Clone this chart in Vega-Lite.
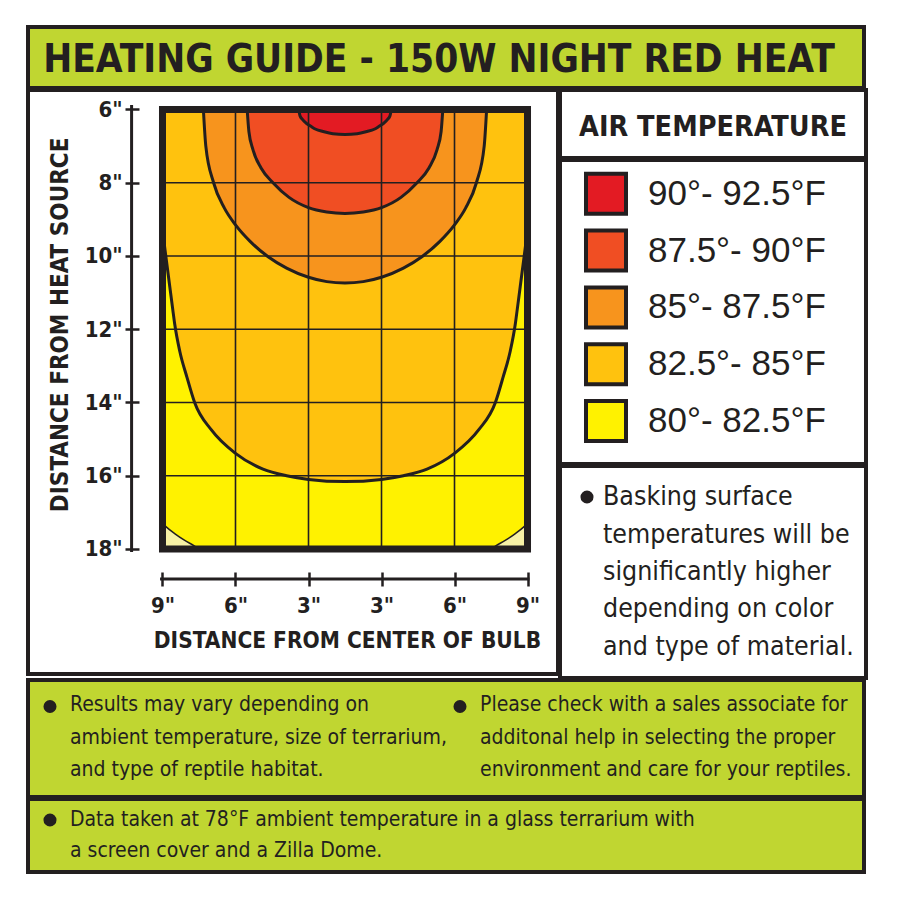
{
  "$schema": "https://vega.github.io/schema/vega-lite/v6.json",
  "background": "white",
  "padding": {"left": 26, "top": 25, "right": 4, "bottom": 4},
  "spacing": -8,
  "config": {
    "font": "DejaVu Sans Condensed, DejaVu Sans, sans-serif",
    "view": {"stroke": "#231f20", "strokeWidth": 4},
    "concat": {"spacing": -8}
  },
  "datasets": {
    "bands": [
      {"band": "82.5°- 85°F", "x": -7.5, "y": 9.3},
      {"band": "82.5°- 85°F", "x": -7.36, "y": 10.02},
      {"band": "82.5°- 85°F", "x": -7.2, "y": 10.84},
      {"band": "82.5°- 85°F", "x": -7.08, "y": 11.45},
      {"band": "82.5°- 85°F", "x": -7.0, "y": 11.85},
      {"band": "82.5°- 85°F", "x": -6.79, "y": 12.6},
      {"band": "82.5°- 85°F", "x": -6.5, "y": 13.3},
      {"band": "82.5°- 85°F", "x": -6.18, "y": 14.0},
      {"band": "82.5°- 85°F", "x": -5.49, "y": 14.75},
      {"band": "82.5°- 85°F", "x": -4.5, "y": 15.39},
      {"band": "82.5°- 85°F", "x": -3.37, "y": 15.82},
      {"band": "82.5°- 85°F", "x": -2.4, "y": 16.0},
      {"band": "82.5°- 85°F", "x": -1.5, "y": 16.1},
      {"band": "82.5°- 85°F", "x": 0, "y": 16.16},
      {"band": "82.5°- 85°F", "x": 1.5, "y": 16.1},
      {"band": "82.5°- 85°F", "x": 2.4, "y": 16.0},
      {"band": "82.5°- 85°F", "x": 3.37, "y": 15.82},
      {"band": "82.5°- 85°F", "x": 4.5, "y": 15.39},
      {"band": "82.5°- 85°F", "x": 5.49, "y": 14.75},
      {"band": "82.5°- 85°F", "x": 6.18, "y": 14.0},
      {"band": "82.5°- 85°F", "x": 6.5, "y": 13.3},
      {"band": "82.5°- 85°F", "x": 6.79, "y": 12.6},
      {"band": "82.5°- 85°F", "x": 7.0, "y": 11.85},
      {"band": "82.5°- 85°F", "x": 7.08, "y": 11.45},
      {"band": "82.5°- 85°F", "x": 7.2, "y": 10.84},
      {"band": "82.5°- 85°F", "x": 7.36, "y": 10.02},
      {"band": "82.5°- 85°F", "x": 7.5, "y": 9.3},
      {"band": "85°- 87.5°F", "x": -5.82, "y": 6.0},
      {"band": "85°- 87.5°F", "x": -5.72, "y": 7.0},
      {"band": "85°- 87.5°F", "x": -5.4, "y": 8.0},
      {"band": "85°- 87.5°F", "x": -4.95, "y": 8.7},
      {"band": "85°- 87.5°F", "x": -4.5, "y": 9.15},
      {"band": "85°- 87.5°F", "x": -3.9, "y": 9.6},
      {"band": "85°- 87.5°F", "x": -3.16, "y": 10.02},
      {"band": "85°- 87.5°F", "x": -2.4, "y": 10.33},
      {"band": "85°- 87.5°F", "x": -1.5, "y": 10.58},
      {"band": "85°- 87.5°F", "x": -0.75, "y": 10.7},
      {"band": "85°- 87.5°F", "x": 0, "y": 10.74},
      {"band": "85°- 87.5°F", "x": 0.75, "y": 10.7},
      {"band": "85°- 87.5°F", "x": 1.5, "y": 10.58},
      {"band": "85°- 87.5°F", "x": 2.4, "y": 10.33},
      {"band": "85°- 87.5°F", "x": 3.16, "y": 10.02},
      {"band": "85°- 87.5°F", "x": 3.9, "y": 9.6},
      {"band": "85°- 87.5°F", "x": 4.5, "y": 9.15},
      {"band": "85°- 87.5°F", "x": 4.95, "y": 8.7},
      {"band": "85°- 87.5°F", "x": 5.4, "y": 8.0},
      {"band": "85°- 87.5°F", "x": 5.72, "y": 7.0},
      {"band": "85°- 87.5°F", "x": 5.82, "y": 6.0},
      {"band": "87.5°- 90°F", "x": -4.02, "y": 6.0},
      {"band": "87.5°- 90°F", "x": -3.95, "y": 6.6},
      {"band": "87.5°- 90°F", "x": -3.78, "y": 7.1},
      {"band": "87.5°- 90°F", "x": -3.45, "y": 7.6},
      {"band": "87.5°- 90°F", "x": -2.96, "y": 8.0},
      {"band": "87.5°- 90°F", "x": -2.3, "y": 8.4},
      {"band": "87.5°- 90°F", "x": -1.5, "y": 8.68},
      {"band": "87.5°- 90°F", "x": -0.75, "y": 8.8},
      {"band": "87.5°- 90°F", "x": 0, "y": 8.84},
      {"band": "87.5°- 90°F", "x": 0.75, "y": 8.8},
      {"band": "87.5°- 90°F", "x": 1.5, "y": 8.68},
      {"band": "87.5°- 90°F", "x": 2.3, "y": 8.4},
      {"band": "87.5°- 90°F", "x": 2.96, "y": 8.0},
      {"band": "87.5°- 90°F", "x": 3.45, "y": 7.6},
      {"band": "87.5°- 90°F", "x": 3.78, "y": 7.1},
      {"band": "87.5°- 90°F", "x": 3.95, "y": 6.6},
      {"band": "87.5°- 90°F", "x": 4.02, "y": 6.0},
      {"band": "90°- 92.5°F", "x": -1.9, "y": 6.0},
      {"band": "90°- 92.5°F", "x": -1.85, "y": 6.17},
      {"band": "90°- 92.5°F", "x": -1.75, "y": 6.27},
      {"band": "90°- 92.5°F", "x": -1.6, "y": 6.37},
      {"band": "90°- 92.5°F", "x": -1.4, "y": 6.46},
      {"band": "90°- 92.5°F", "x": -1.2, "y": 6.54},
      {"band": "90°- 92.5°F", "x": -0.9, "y": 6.6},
      {"band": "90°- 92.5°F", "x": -0.5, "y": 6.66},
      {"band": "90°- 92.5°F", "x": 0, "y": 6.68},
      {"band": "90°- 92.5°F", "x": 0.5, "y": 6.66},
      {"band": "90°- 92.5°F", "x": 0.9, "y": 6.6},
      {"band": "90°- 92.5°F", "x": 1.2, "y": 6.54},
      {"band": "90°- 92.5°F", "x": 1.4, "y": 6.46},
      {"band": "90°- 92.5°F", "x": 1.6, "y": 6.37},
      {"band": "90°- 92.5°F", "x": 1.75, "y": 6.27},
      {"band": "90°- 92.5°F", "x": 1.85, "y": 6.17},
      {"band": "90°- 92.5°F", "x": 1.9, "y": 6.0}
    ],
    "corners": [
      {"band": "below 80°F", "side": "left", "x": -7.5, "y": 17.3},
      {"band": "below 80°F", "side": "left", "x": -7.36, "y": 17.39},
      {"band": "below 80°F", "side": "left", "x": -7.0, "y": 17.58},
      {"band": "below 80°F", "side": "left", "x": -6.6, "y": 17.76},
      {"band": "below 80°F", "side": "left", "x": -6.18, "y": 17.92},
      {"band": "below 80°F", "side": "left", "x": -6.0, "y": 18.0},
      {"band": "below 80°F", "side": "right", "x": 6.0, "y": 18.0},
      {"band": "below 80°F", "side": "right", "x": 6.18, "y": 17.92},
      {"band": "below 80°F", "side": "right", "x": 6.6, "y": 17.76},
      {"band": "below 80°F", "side": "right", "x": 7.0, "y": 17.58},
      {"band": "below 80°F", "side": "right", "x": 7.36, "y": 17.39},
      {"band": "below 80°F", "side": "right", "x": 7.5, "y": 17.3}
    ],
    "gridX": [{"x": -4.5}, {"x": -1.5}, {"x": 1.5}, {"x": 4.5}],
    "gridY": [{"y": 8}, {"y": 10}, {"y": 12}, {"y": 14}, {"y": 16}],
    "legend": [
      {"band": "90°- 92.5°F"},
      {"band": "87.5°- 90°F"},
      {"band": "85°- 87.5°F"},
      {"band": "82.5°- 85°F"},
      {"band": "80°- 82.5°F"}
    ],
    "note": [
      {"line": 1, "t": "Basking surface"},
      {"line": 2, "t": "temperatures will be"},
      {"line": 3, "t": "significantly higher"},
      {"line": 4, "t": "depending on color"},
      {"line": 5, "t": "and type of material."}
    ],
    "rowC": [
      {"col": "a", "line": 1, "t": "Results may vary depending on"},
      {"col": "a", "line": 2, "t": "ambient temperature, size of terrarium,"},
      {"col": "a", "line": 3, "t": "and type of reptile habitat."},
      {"col": "b", "line": 1, "t": "Please check with a sales associate for"},
      {"col": "b", "line": 2, "t": "additonal help in selecting the proper"},
      {"col": "b", "line": 3, "t": "environment and care for your reptiles."}
    ],
    "rowD": [
      {"col": "a", "line": 1, "t": "Data taken at 78°F ambient temperature in a glass terrarium with"},
      {"col": "a", "line": 2, "t": "a screen cover and a Zilla Dome."}
    ]
  },
  "vconcat": [
    {
      "width": 836,
      "height": 61,
      "view": {"fill": "#c0d631"},
      "data": {"values": [{"t": "HEATING GUIDE - 150W NIGHT RED HEAT"}]},
      "mark": {"type": "text", "fontSize": 38.5, "fontWeight": "bold", "color": "#231f20", "dx": -7, "dy": 2},
      "encoding": {
        "x": {"field": "t", "type": "nominal", "axis": null},
        "y": {"field": "t", "type": "nominal", "axis": null},
        "text": {"field": "t", "type": "nominal"}
      }
    },
    {
      "hconcat": [
        {
          "width": 530,
          "height": 584,
          "view": {"fill": "white"},
          "layer": [
            {
              "data": {"values": [{"region": "plot area"}]},
              "mark": {"type": "rect"},
              "encoding": {
                "x": {
                  "datum": -7.5,
                  "type": "quantitative",
                  "scale": {"domain": [-13.027, 8.753], "nice": false, "zero": false},
                  "axis": {
                    "orient": "bottom",
                    "offset": -102,
                    "values": [-7.5, -4.5, -1.5, 1.5, 4.5, 7.5],
                    "labelExpr": "(abs(datum.value) + 1.5) + '\"'",
                    "domain": false,
                    "grid": false,
                    "tickSize": 14,
                    "tickWidth": 2.5,
                    "tickColor": "#231f20",
                    "labelFontSize": 22,
                    "labelFontWeight": "bold",
                    "labelColor": "#231f20",
                    "labelPadding": 9,
                    "labelFlush": false,
                    "labelOverlap": false,
                    "title": null,
                    "zindex": 1
                  }
                },
                "x2": {"datum": 7.5},
                "y": {
                  "datum": 6,
                  "type": "quantitative",
                  "scale": {"domain": [5.468, 21.413], "nice": false, "zero": false, "reverse": true},
                  "axis": {
                    "orient": "left",
                    "offset": -111,
                    "values": [6, 8, 10, 12, 14, 16, 18],
                    "labelExpr": "datum.value + '\"'",
                    "domain": false,
                    "grid": false,
                    "tickSize": 14,
                    "tickWidth": 2.5,
                    "tickColor": "#231f20",
                    "labelFontSize": 22,
                    "labelFontWeight": "bold",
                    "labelColor": "#231f20",
                    "labelPadding": 3,
                    "labelOverlap": false,
                    "title": null,
                    "zindex": 1
                  }
                },
                "y2": {"datum": 18},
                "color": {
                  "datum": "80°- 82.5°F",
                  "type": "nominal",
                  "scale": {
                    "domain": ["90°- 92.5°F", "87.5°- 90°F", "85°- 87.5°F", "82.5°- 85°F", "80°- 82.5°F", "below 80°F"],
                    "range": ["#e31b23", "#f04e23", "#f7941d", "#ffc20e", "#fff200", "#f7f1a6"]
                  },
                  "legend": null
                }
              }
            },
            {
              "data": {"name": "bands"},
              "mark": {"type": "area", "interpolate": "monotone", "stroke": "#231f20", "strokeWidth": 3, "strokeJoin": "round"},
              "encoding": {
                "x": {"field": "x", "type": "quantitative"},
                "y": {"field": "y", "type": "quantitative", "stack": null},
                "y2": {"datum": 6},
                "color": {"field": "band", "type": "nominal", "legend": null}
              }
            },
            {
              "data": {"name": "corners"},
              "mark": {"type": "area", "interpolate": "monotone", "stroke": "#231f20", "strokeWidth": 1.5},
              "encoding": {
                "x": {"field": "x", "type": "quantitative"},
                "y": {"field": "y", "type": "quantitative", "stack": null},
                "y2": {"datum": 18},
                "detail": {"field": "side", "type": "nominal"},
                "color": {"field": "band", "type": "nominal", "legend": null}
              }
            },
            {
              "data": {"name": "gridX"},
              "mark": {"type": "rule", "color": "#231f20", "strokeWidth": 1.6},
              "encoding": {
                "x": {"field": "x", "type": "quantitative"},
                "y": {"datum": 6},
                "y2": {"datum": 18}
              }
            },
            {
              "data": {"name": "gridY"},
              "mark": {"type": "rule", "color": "#231f20", "strokeWidth": 1.6},
              "encoding": {
                "y": {"field": "y", "type": "quantitative"},
                "x": {"datum": -7.5},
                "x2": {"datum": 7.5}
              }
            },
            {
              "data": {"values": [{"region": "plot area"}]},
              "mark": {"type": "rect", "filled": false, "stroke": "#231f20", "strokeWidth": 7},
              "encoding": {
                "x": {"datum": -7.5},
                "x2": {"datum": 7.5},
                "y": {"datum": 6},
                "y2": {"datum": 18}
              }
            },
            {
              "data": {"values": [{"axis": "distance from heat source"}]},
              "mark": {"type": "rule", "color": "#231f20", "strokeWidth": 3},
              "encoding": {
                "x": {"datum": -8.77},
                "y": {"datum": 5.88},
                "y2": {"datum": 18.08}
              }
            },
            {
              "data": {"values": [{"axis": "distance from center of bulb"}]},
              "mark": {"type": "rule", "color": "#231f20", "strokeWidth": 3},
              "encoding": {
                "x": {"datum": -7.6},
                "x2": {"datum": 7.58},
                "y": {"datum": 18.82}
              }
            },
            {
              "data": {"values": [{"label": "DISTANCE FROM CENTER OF BULB"}]},
              "mark": {"type": "text", "fontSize": 22.5, "fontWeight": "bold", "color": "#231f20", "baseline": "middle"},
              "encoding": {
                "x": {"datum": 0.1},
                "y": {"datum": 20.51},
                "text": {"field": "label", "type": "nominal"}
              }
            },
            {
              "data": {"values": [{"label": "DISTANCE FROM HEAT SOURCE"}]},
              "mark": {"type": "text", "fontSize": 24, "fontWeight": "bold", "color": "#231f20", "angle": 270, "baseline": "middle"},
              "encoding": {
                "x": {"datum": -11.67},
                "y": {"datum": 11.88},
                "text": {"field": "label", "type": "nominal"}
              }
            }
          ]
        },
        {
          "vconcat": [
            {
              "width": 306,
              "height": 68,
              "view": {"fill": "white"},
              "data": {"values": [{"t": "AIR TEMPERATURE"}]},
              "mark": {"type": "text", "fontSize": 28.5, "fontWeight": "bold", "color": "#231f20", "dy": 3},
              "encoding": {
                "x": {"field": "t", "type": "nominal", "axis": null},
                "y": {"field": "t", "type": "nominal", "axis": null},
                "text": {"field": "t", "type": "nominal"}
              }
            },
            {
              "width": 306,
              "height": 304,
              "view": {"fill": "white"},
              "data": {"name": "legend"},
              "encoding": {
                "y": {
                  "field": "band",
                  "type": "nominal",
                  "scale": {
                    "type": "point",
                    "domain": ["90°- 92.5°F", "87.5°- 90°F", "85°- 87.5°F", "82.5°- 85°F", "80°- 82.5°F"],
                    "padding": 0.678,
                    "align": 0.44
                  },
                  "axis": null
                }
              },
              "layer": [
                {
                  "mark": {"type": "point", "shape": "square", "filled": true, "size": 1600, "stroke": "#231f20", "strokeWidth": 4, "opacity": 1, "xOffset": -107},
                  "encoding": {"color": {"field": "band", "type": "nominal", "legend": null}}
                },
                {
                  "mark": {"type": "text", "align": "left", "dx": -65, "fontSize": 35, "font": "Liberation Sans, Arial, Helvetica, sans-serif", "color": "#231f20"},
                  "encoding": {"text": {"field": "band", "type": "nominal"}}
                }
              ]
            },
            {
              "width": 306,
              "height": 212,
              "view": {"fill": "white"},
              "data": {"name": "note"},
              "encoding": {
                "y": {"field": "line", "type": "ordinal", "scale": {"type": "point", "padding": 0.827}, "axis": null}
              },
              "layer": [
                {
                  "mark": {"type": "text", "align": "left", "dx": -110, "fontSize": 26.5, "color": "#231f20"},
                  "encoding": {"text": {"field": "t", "type": "nominal"}}
                },
                {
                  "transform": [{"filter": "datum.line == 1"}],
                  "mark": {"type": "point", "shape": "circle", "filled": true, "size": 170, "color": "#231f20", "opacity": 1, "xOffset": -126}
                }
              ]
            }
          ]
        }
      ]
    },
    {
      "width": 836,
      "height": 117,
      "view": {"fill": "#c0d631"},
      "data": {"name": "rowC"},
      "encoding": {
        "x": {"field": "col", "type": "nominal", "scale": {"type": "band", "domain": ["a", "b"], "paddingInner": 0, "paddingOuter": 0.0195}, "axis": null, "bandPosition": 0},
        "y": {"field": "line", "type": "ordinal", "scale": {"type": "point", "padding": 0.828}, "axis": null}
      },
      "layer": [
        {
          "mark": {"type": "text", "align": "left", "dx": 34, "fontSize": 21, "color": "#231f20", "dy": -1},
          "encoding": {"text": {"field": "t", "type": "nominal"}}
        },
        {
          "transform": [{"filter": "datum.line == 1"}],
          "mark": {"type": "point", "shape": "circle", "filled": true, "size": 170, "color": "#231f20", "opacity": 1, "xOffset": 14}
        }
      ]
    },
    {
      "width": 836,
      "height": 73,
      "view": {"fill": "#c0d631"},
      "data": {"name": "rowD"},
      "encoding": {
        "x": {"field": "col", "type": "nominal", "scale": {"type": "band", "domain": ["a", "b"], "paddingInner": 0, "paddingOuter": 0.0195}, "axis": null, "bandPosition": 0},
        "y": {"field": "line", "type": "ordinal", "scale": {"type": "point", "padding": 0.677}, "axis": null}
      },
      "layer": [
        {
          "mark": {"type": "text", "align": "left", "dx": 34, "fontSize": 21, "color": "#231f20"},
          "encoding": {"text": {"field": "t", "type": "nominal"}}
        },
        {
          "transform": [{"filter": "datum.line == 1"}],
          "mark": {"type": "point", "shape": "circle", "filled": true, "size": 170, "color": "#231f20", "opacity": 1, "xOffset": 14}
        }
      ]
    }
  ]
}
